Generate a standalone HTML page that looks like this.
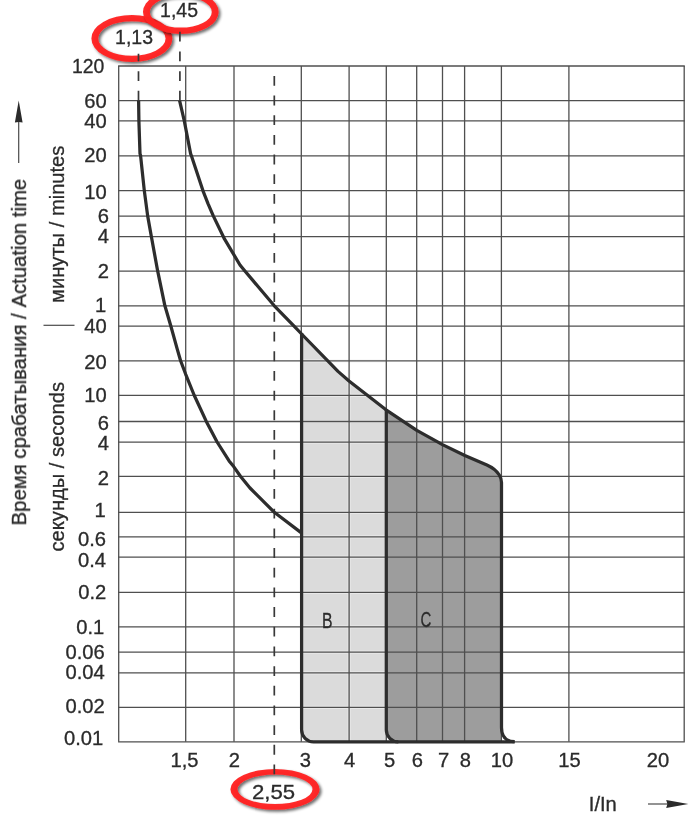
<!DOCTYPE html>
<html lang="ru"><head><meta charset="utf-8"><title>Время срабатывания / Actuation time</title>
<style>html,body{margin:0;padding:0;background:#fff;}body{width:700px;height:816px;overflow:hidden;}svg{display:block;}text{font-family:"Liberation Sans",sans-serif;fill:#2b2b2b;}</style>
</head><body>
<svg width="700" height="816" viewBox="0 0 700 816">
<defs><filter id="sh" x="-20%" y="-30%" width="140%" height="170%"><feGaussianBlur in="SourceAlpha" stdDeviation="1.5"/><feOffset dx="2" dy="2"/><feComponentTransfer><feFuncA type="linear" slope="0.6"/></feComponentTransfer><feMerge><feMergeNode/><feMergeNode in="SourceGraphic"/></feMerge></filter><filter id="soft" x="-5%" y="-5%" width="110%" height="110%"><feGaussianBlur stdDeviation="0.3"/></filter>
<clipPath id="cb"><rect x="301.6" y="300" width="84.69999999999999" height="441.79999999999995"/></clipPath>
</defs>
<rect width="700" height="816" fill="#fff"/>
<path d="M 301.6,334.0 L 338.0,371.4 L 349.0,381.0 L 386.0,409.8 L 386.3,410.0 L 386.3,741.8 L 313.6,741.8 A 12,12 0 0 1 301.6,729.8 Z" fill="#dbdbdb"/>
<path d="M 386.3,410.0 L 416.8,430.4 L 442.5,444.6 L 464.8,455.5 L 486.9,464.9 C 491.5,466.9 496.5,470.5 499.3,475.0 C 500.8,477.4 501.5,479.5 501.5,482.5 L 501.5,741.8 L 398.3,741.8 A 12,12 0 0 1 386.3,729.8 Z" fill="#9d9d9d"/>
<g stroke="#4f4f4f" stroke-width="1.3" fill="none">
<g clip-path="url(#cb)" stroke="#f2f2f2" stroke-width="3.2" opacity="0.6">
<line x1="301.6" x2="386.3" y1="360.9" y2="360.9"/>
<line x1="301.6" x2="386.3" y1="395.3" y2="395.3"/>
<line x1="301.6" x2="386.3" y1="421.5" y2="421.5"/>
<line x1="301.6" x2="386.3" y1="442.1" y2="442.1"/>
<line x1="301.6" x2="386.3" y1="476.4" y2="476.4"/>
<line x1="301.6" x2="386.3" y1="512.3" y2="512.3"/>
<line x1="301.6" x2="386.3" y1="536.8" y2="536.8"/>
<line x1="301.6" x2="386.3" y1="557.1" y2="557.1"/>
<line x1="301.6" x2="386.3" y1="592.3" y2="592.3"/>
<line x1="301.6" x2="386.3" y1="626.9" y2="626.9"/>
<line x1="301.6" x2="386.3" y1="652.1" y2="652.1"/>
<line x1="301.6" x2="386.3" y1="672.9" y2="672.9"/>
<line x1="301.6" x2="386.3" y1="707.4" y2="707.4"/>
<line x1="349.1" x2="349.1" y1="370" y2="741.8"/>
</g>
<line x1="118.7" x2="118.7" y1="66.0" y2="741.8"/>
<line x1="185.7" x2="185.7" y1="66.0" y2="741.8"/>
<line x1="234.0" x2="234.0" y1="66.0" y2="741.8"/>
<line x1="301.3" x2="301.3" y1="66.0" y2="741.8"/>
<line x1="349.1" x2="349.1" y1="66.0" y2="741.8"/>
<line x1="386.3" x2="386.3" y1="66.0" y2="741.8"/>
<line x1="416.7" x2="416.7" y1="66.0" y2="741.8"/>
<line x1="442.5" x2="442.5" y1="66.0" y2="741.8"/>
<line x1="464.6" x2="464.6" y1="66.0" y2="741.8"/>
<line x1="501.4" x2="501.4" y1="66.0" y2="741.8"/>
<line x1="568.9" x2="568.9" y1="66.0" y2="741.8"/>
<line x1="684.2" x2="684.2" y1="66.0" y2="741.8"/>
<line x1="118.10000000000001" x2="684.8000000000001" y1="66.0" y2="66.0"/>
<line x1="118.10000000000001" x2="684.8000000000001" y1="100.6" y2="100.6"/>
<line x1="118.10000000000001" x2="684.8000000000001" y1="120.9" y2="120.9"/>
<line x1="118.10000000000001" x2="684.8000000000001" y1="155.8" y2="155.8"/>
<line x1="118.10000000000001" x2="684.8000000000001" y1="190.6" y2="190.6"/>
<line x1="118.10000000000001" x2="684.8000000000001" y1="216.1" y2="216.1"/>
<line x1="118.10000000000001" x2="684.8000000000001" y1="236.7" y2="236.7"/>
<line x1="118.10000000000001" x2="684.8000000000001" y1="271.2" y2="271.2"/>
<line x1="118.10000000000001" x2="684.8000000000001" y1="305.8" y2="305.8"/>
<line x1="118.10000000000001" x2="684.8000000000001" y1="326.2" y2="326.2"/>
<line x1="118.10000000000001" x2="684.8000000000001" y1="360.9" y2="360.9"/>
<line x1="118.10000000000001" x2="684.8000000000001" y1="395.3" y2="395.3"/>
<line x1="118.10000000000001" x2="684.8000000000001" y1="421.5" y2="421.5"/>
<line x1="118.10000000000001" x2="684.8000000000001" y1="442.1" y2="442.1"/>
<line x1="118.10000000000001" x2="684.8000000000001" y1="476.4" y2="476.4"/>
<line x1="118.10000000000001" x2="684.8000000000001" y1="512.3" y2="512.3"/>
<line x1="118.10000000000001" x2="684.8000000000001" y1="536.8" y2="536.8"/>
<line x1="118.10000000000001" x2="684.8000000000001" y1="557.1" y2="557.1"/>
<line x1="118.10000000000001" x2="684.8000000000001" y1="592.3" y2="592.3"/>
<line x1="118.10000000000001" x2="684.8000000000001" y1="626.9" y2="626.9"/>
<line x1="118.10000000000001" x2="684.8000000000001" y1="652.1" y2="652.1"/>
<line x1="118.10000000000001" x2="684.8000000000001" y1="672.9" y2="672.9"/>
<line x1="118.10000000000001" x2="684.8000000000001" y1="707.4" y2="707.4"/>
<line x1="118.10000000000001" x2="684.8000000000001" y1="741.8" y2="741.8"/>
</g>
<path fill-rule="evenodd" fill="#ff2222" fill-opacity="0.96" filter="url(#sh)" d="M 91.4,38.5 A 40.5,23.5 0 1 0 172.4,38.5 A 40.5,23.5 0 1 0 91.4,38.5 Z M 98.2,38.5 A 33.7,17.3 0 1 0 165.60000000000002,38.5 A 33.7,17.3 0 1 0 98.2,38.5 Z"/>
<path fill-rule="evenodd" fill="#ff2222" fill-opacity="0.96" filter="url(#sh)" d="M 143.0,12.0 A 37.8,22.0 0 1 0 218.60000000000002,12.0 A 37.8,22.0 0 1 0 143.0,12.0 Z M 149.8,12.0 A 31.0,15.6 0 1 0 211.8,12.0 A 31.0,15.6 0 1 0 149.8,12.0 Z"/>
<path fill-rule="evenodd" fill="#ff2222" fill-opacity="0.96" filter="url(#sh)" d="M 230.4,789.3 A 44.6,20.4 0 1 0 319.6,789.3 A 44.6,20.4 0 1 0 230.4,789.3 Z M 237.5,789.3 A 37.5,14.7 0 1 0 312.5,789.3 A 37.5,14.7 0 1 0 237.5,789.3 Z"/>
<g stroke="#383838" stroke-width="1.7" fill="none" stroke-dasharray="9.8 9.874">
<line x1="138.5" x2="138.5" y1="100.6" y2="53.8"/>
<line x1="179.9" x2="179.9" y1="100.6" y2="31.7"/>
<line x1="274.3" x2="274.3" y1="774.3" y2="75.8"/>
</g>
<g stroke="#2d2d2d" stroke-width="3.25" fill="none" stroke-linejoin="round" stroke-linecap="butt">
<polyline points="138.6,100.6 138.9,121.0 140.0,153.6 140.6,155.8 144.3,190.6 147.7,216.1 151.4,236.8 157.7,271.2 164.9,305.8 170.9,326.3 177.1,348.6 180.6,360.8 185.7,374.3 194.3,395.5 206.3,421.4 217.1,442.0 229.1,460.9 233.7,466.6 240.6,476.5 250.0,488.0 274.3,512.3 301.4,532.9"/>
<path d="M 179.6,100.6 L 184.3,121.0 L 190.6,153.6 L 191.4,155.8 L 202.9,190.6 L 208.0,203.6 L 213.4,216.1 L 223.4,236.8 L 224.3,238.7 L 240.0,265.0 L 245.1,271.2 L 274.3,305.8 L 294.3,326.3 L 301.6,334.0 L 338.0,371.4 L 349.0,381.0 L 386.0,409.8 L 416.8,430.4 L 442.5,444.6 L 464.8,455.5 L 486.9,464.9 C 491.5,466.9 496.5,470.5 499.3,475.0 C 500.8,477.4 501.5,479.5 501.5,482.5 L 501.5,727.5 C 501.5,735.5 505.5,741.7 514.6,741.7"/>
<path d="M 301.6,333.0 L 301.6,729.8 A 12,12 0 0 0 313.6,741.8 L 514.6,741.8"/>
<path d="M 386.3,409.0 L 386.3,729.8 A 12,12 0 0 0 398.3,741.8"/>
</g>
<g filter="url(#soft)" stroke="#2b2b2b" stroke-width="0.3">
<text transform="translate(104.3,72.6) scale(1.0,1)" font-size="19.4" text-anchor="end" >120</text>
<text transform="translate(106.8,107.5) scale(1.04,1)" font-size="19.4" text-anchor="end" >60</text>
<text transform="translate(106.8,128.1) scale(1.04,1)" font-size="19.4" text-anchor="end" >40</text>
<text transform="translate(106.8,162.4) scale(1.04,1)" font-size="19.4" text-anchor="end" >20</text>
<text transform="translate(106.8,198.5) scale(1.04,1)" font-size="19.4" text-anchor="end" >10</text>
<text transform="translate(109.0,223.1) scale(1.04,1)" font-size="19.4" text-anchor="end" >6</text>
<text transform="translate(109.0,243.3) scale(1.04,1)" font-size="19.4" text-anchor="end" >4</text>
<text transform="translate(109.0,277.9) scale(1.04,1)" font-size="19.4" text-anchor="end" >2</text>
<text transform="translate(106.19999999999999,312.3) scale(1.04,1)" font-size="19.4" text-anchor="end" >1</text>
<text transform="translate(106.8,332.9) scale(1.04,1)" font-size="19.4" text-anchor="end" >40</text>
<text transform="translate(106.8,368.9) scale(1.04,1)" font-size="19.4" text-anchor="end" >20</text>
<text transform="translate(106.8,402.3) scale(1.04,1)" font-size="19.4" text-anchor="end" >10</text>
<text transform="translate(109.0,430.0) scale(1.04,1)" font-size="19.4" text-anchor="end" >6</text>
<text transform="translate(109.0,450.0) scale(1.04,1)" font-size="19.4" text-anchor="end" >4</text>
<text transform="translate(109.0,484.6) scale(1.04,1)" font-size="19.4" text-anchor="end" >2</text>
<text transform="translate(105.8,517.2) scale(1.04,1)" font-size="19.4" text-anchor="end" >1</text>
<text transform="translate(106.0,545.6) scale(1.04,1)" font-size="19.4" text-anchor="end" >0.6</text>
<text transform="translate(106.0,566.5) scale(1.04,1)" font-size="19.4" text-anchor="end" >0.4</text>
<text transform="translate(106.19999999999999,599.0) scale(1.04,1)" font-size="19.4" text-anchor="end" >0.2</text>
<text transform="translate(104.3,634.0) scale(1.04,1)" font-size="19.4" text-anchor="end" >0.1</text>
<text transform="translate(104.69999999999999,659.3) scale(1.04,1)" font-size="19.4" text-anchor="end" >0.06</text>
<text transform="translate(104.69999999999999,678.8) scale(1.04,1)" font-size="19.4" text-anchor="end" >0.04</text>
<text transform="translate(104.69999999999999,713.1) scale(1.04,1)" font-size="19.4" text-anchor="end" >0.02</text>
<text transform="translate(103.19999999999999,744.8) scale(1.04,1)" font-size="19.4" text-anchor="end" >0.01</text>
<text transform="translate(184.5,766.8) scale(1.04,1)" font-size="19.4" text-anchor="middle" >1,5</text>
<text transform="translate(234.3,766.8) scale(1.04,1)" font-size="19.4" text-anchor="middle" >2</text>
<text transform="translate(305.4,766.8) scale(1.04,1)" font-size="19.4" text-anchor="middle" >3</text>
<text transform="translate(349.5,766.8) scale(1.04,1)" font-size="19.4" text-anchor="middle" >4</text>
<text transform="translate(389.6,766.8) scale(1.04,1)" font-size="19.4" text-anchor="middle" >5</text>
<text transform="translate(417.3,766.8) scale(1.04,1)" font-size="19.4" text-anchor="middle" >6</text>
<text transform="translate(443.5,766.8) scale(1.04,1)" font-size="19.4" text-anchor="middle" >7</text>
<text transform="translate(465.4,766.8) scale(1.04,1)" font-size="19.4" text-anchor="middle" >8</text>
<text transform="translate(502.0,766.8) scale(1.04,1)" font-size="19.4" text-anchor="middle" >10</text>
<text transform="translate(569.5,766.8) scale(1.04,1)" font-size="19.4" text-anchor="middle" >15</text>
<text transform="translate(658.0,766.8) scale(1.04,1)" font-size="19.4" text-anchor="middle" >20</text>
<text transform="translate(602.8,810.6) scale(1.04,1)" font-size="19.4" text-anchor="middle" >I/In</text>
<text transform="translate(134.0,44.4) scale(0.985,1)" font-size="19.8" text-anchor="middle" >1,13</text>
<text transform="translate(179.0,17.3) scale(0.985,1)" font-size="19.8" text-anchor="middle" >1,45</text>
<text transform="translate(273.6,798.8) scale(1.12,1)" font-size="19.8" text-anchor="middle" >2,55</text>
<text transform="translate(327.4,628.2) scale(0.74,1)" font-size="21.4" text-anchor="middle" >B</text>
<text transform="translate(425.9,627.2) scale(0.7,1)" font-size="21.4" text-anchor="middle" >C</text>
<text transform="translate(26,525.4) rotate(-90) scale(1.048,1)" font-size="19.4">Время срабатывания / Actuation time</text>
<text transform="translate(63.6,302.9) rotate(-90) scale(1.039,1)" font-size="19.4">минуты / minutes</text>
<text transform="translate(63.6,551.5) rotate(-90) scale(1.039,1)" font-size="19.4">секунды / seconds</text>
</g>
<g stroke="#4a4a4a" stroke-width="1.2" fill="none">
<line x1="43.5" x2="74.5" y1="325.3" y2="325.3"/>
<line x1="18.7" x2="18.7" y1="163" y2="121"/>
<line x1="648" x2="668" y1="804" y2="804"/>
</g>
<path d="M18.7,100.5 L22.6,122.5 L18.7,122.1 L14.9,122.5 Z" fill="#2b2b2b"/>
<path d="M688.4,804 L666.2,807.9 L667.4,804 L666.2,800.1 Z" fill="#2b2b2b"/>
</svg>
</body></html>
